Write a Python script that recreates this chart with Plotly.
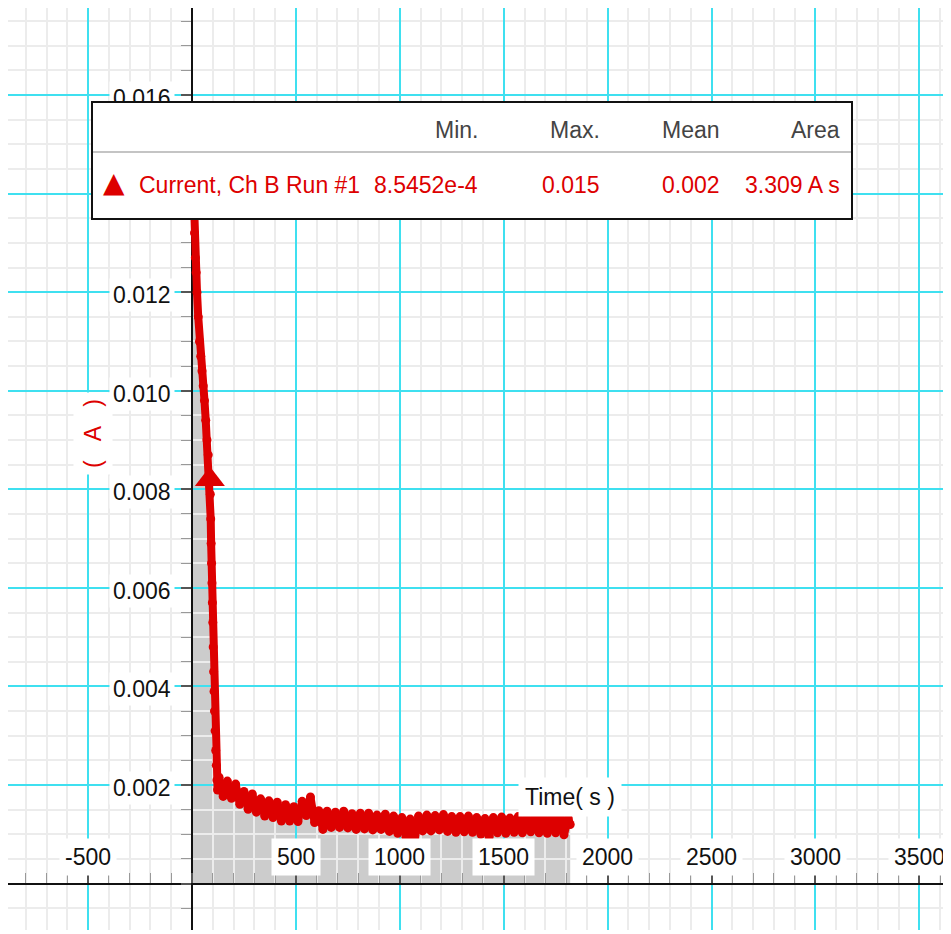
import plotly.graph_objects as go

# ---------------- data ----------------
time_s = [0, 2, 5, 8, 12, 16, 20, 24, 30, 36, 42, 48, 54, 60, 66, 72, 78, 84, 88, 90,
          92, 94, 96, 98, 100, 102, 104, 106, 108, 111, 114, 117, 120, 123,
          130, 150, 170, 190, 210, 230, 250, 270, 290, 310, 330, 350, 370, 390, 410, 430,
          450, 470, 490, 510, 530, 550, 570, 590, 610, 630, 650, 670, 690, 710, 730, 750,
          770, 790, 810, 830, 850, 870, 890, 910, 930, 950, 970, 990, 1010, 1030, 1050,
          1070, 1090, 1110, 1130, 1150, 1170, 1190, 1210, 1230, 1250, 1270, 1290, 1310,
          1330, 1350, 1370, 1390, 1410, 1430, 1450, 1470, 1490, 1510, 1530, 1550, 1570,
          1590, 1610, 1630, 1650, 1670, 1690, 1710, 1730, 1750, 1770, 1790, 1810, 1820]
current_a = [0.0150, 0.0146, 0.0141, 0.0137, 0.0132, 0.0127, 0.0124, 0.0120, 0.0115, 0.0110,
             0.0107, 0.0104, 0.0101, 0.0098, 0.0094, 0.0090, 0.0087, 0.0083, 0.0079, 0.0074,
             0.0069, 0.0065, 0.0061, 0.0057, 0.0053, 0.0048, 0.0043, 0.0039, 0.0035, 0.0031,
             0.0027, 0.0024, 0.0021, 0.0019,
             0.00216, 0.00177, 0.00208, 0.00173, 0.00202, 0.00161, 0.00187, 0.00151, 0.00182, 0.00145,
             0.00172, 0.00137, 0.00168, 0.00134, 0.00165, 0.00127, 0.00160, 0.00127, 0.00156, 0.00126,
             0.00167, 0.00138, 0.00176, 0.00124, 0.00148, 0.00110, 0.00147, 0.00114, 0.00145, 0.00114,
             0.00147, 0.00113, 0.00142, 0.00110, 0.00143, 0.00111, 0.00143, 0.00109, 0.00139, 0.00110,
             0.00141, 0.00106, 0.00137, 0.00102, 0.00134, 0.00094, 0.00131, 0.000855, 0.00137, 0.00107,
             0.00139, 0.00107, 0.00138, 0.00109, 0.00140, 0.00106, 0.00136, 0.00104, 0.00136, 0.00105,
             0.00137, 0.00104, 0.00134, 0.00100, 0.00132, 0.00095, 0.00134, 0.00103, 0.00135, 0.00102,
             0.00133, 0.00104, 0.00136, 0.00103, 0.00134, 0.00105, 0.00136, 0.00103, 0.00134, 0.00102,
             0.00138, 0.00103, 0.00134, 0.00099, 0.00133, 0.00120]

run_marker_t = [86]
run_marker_a = [0.0082]

x_tick_values = [-500, 500, 1000, 1500, 2000, 2500, 3000, 3500]
# 0.014 is hidden behind the statistics box in the original
y_tick_values = [0.002, 0.004, 0.006, 0.008, 0.010, 0.012, 0.016]

series_name = "Current, Ch B Run #1"
stat_headers = ["Min.", "Max.", "Mean", "Area"]
stat_values = ["8.5452e-4", "0.015", "0.002", "3.309 A s"]

x_title = "Time( s )"
y_title = "(\u00a0\u00a0\u00a0A\u00a0\u00a0\u00a0)"

# ---------------- style ----------------
# the page body has an 8 px margin, so the figure starts at screen pixel (8, 8)
OFF = 8
W, H = 940, 922
X_RANGE = [-885.5, 3638]
Y_RANGE = [-0.000941, 0.017766]
FONT = "Liberation Sans, Arial, sans-serif"
FS = 23
RED = "#dd0000"
CYAN = "#3fe0f0"
MINOR = "#ececec"


def px(xs):
    return (xs - OFF) / W


def py(ys):
    return (OFF + H - ys) / H


fig = go.Figure()

# gray area under the curve (below gridlines)
path = "M {},0 ".format(time_s[0]) + " ".join(
    "L {},{}".format(t, a) for t, a in zip(time_s, current_a)) + " L {},0 Z".format(time_s[-1])
fig.add_shape(type="path", path=path, xref="x", yref="y", layer="below",
              fillcolor="#cccccc", line=dict(width=0))

fig.add_trace(go.Scatter(x=time_s, y=current_a, mode="lines+markers",
                         line=dict(color=RED, width=8),
                         marker=dict(size=9, color=RED),
                         hoverinfo="skip"))
fig.add_trace(go.Scatter(x=run_marker_t, y=run_marker_a, mode="markers",
                         marker=dict(symbol="triangle-up", size=26, color=RED),
                         hoverinfo="skip"))

annotations = []
for v in x_tick_values:
    annotations.append(dict(text=str(v), x=v, y=0, xref="x", yref="y",
                            xanchor="center", yanchor="bottom", yshift=8,
                            showarrow=False, bgcolor="white", borderpad=5,
                            font=dict(family=FONT, size=FS, color="#111")))
for v in y_tick_values:
    annotations.append(dict(text="{:.3f}".format(v), x=0, y=v, xref="x", yref="y",
                            xanchor="right", yanchor="middle", xshift=-17, yshift=-3,
                            showarrow=False, bgcolor="white", borderpad=3,
                            font=dict(family=FONT, size=FS, color="#111")))

# axis titles
annotations.append(dict(text=x_title, x=px(570), y=py(797), xref="paper", yref="paper",
                        xanchor="center", yanchor="middle", showarrow=False,
                        bgcolor="white", borderpad=6,
                        font=dict(family=FONT, size=FS, color="#111")))
annotations.append(dict(text=y_title, x=px(93), y=py(434), xref="paper", yref="paper",
                        xanchor="center", yanchor="middle", showarrow=False, textangle=-90,
                        bgcolor="white", borderpad=6,
                        font=dict(family=FONT, size=FS, color=RED)))

# statistics / legend box
annotations.append(dict(text=" ", x=px(91), y=py(101), xref="paper", yref="paper",
                        xanchor="left", yanchor="top", width=758, height=115,
                        showarrow=False, bgcolor="white", bordercolor="#111",
                        borderwidth=2, borderpad=0, font=dict(size=2)))
annotations.append(dict(text=" ", x=px(93), y=py(152), xref="paper", yref="paper",
                        xanchor="left", yanchor="middle", width=758, height=2,
                        showarrow=False, bgcolor="#c4c4c4", borderpad=0, borderwidth=0,
                        font=dict(size=1)))
col_right = [480, 602, 722, 842]
for hdr, val, xr in zip(stat_headers, stat_values, col_right):
    annotations.append(dict(text=hdr, x=px(xr), y=py(130), xref="paper", yref="paper",
                            xanchor="right", yanchor="middle", showarrow=False,
                            font=dict(family=FONT, size=FS, color="#444")))
    annotations.append(dict(text=val, x=px(xr), y=py(185), xref="paper", yref="paper",
                            xanchor="right", yanchor="middle", showarrow=False,
                            font=dict(family=FONT, size=FS, color=RED)))
annotations.append(dict(text=series_name, x=px(137), y=py(185), xref="paper", yref="paper",
                        xanchor="left", yanchor="middle", showarrow=False,
                        font=dict(family=FONT, size=FS, color=RED)))
annotations.append(dict(text="\u25B2", x=px(114), y=py(183), xref="paper", yref="paper",
                        xanchor="center", yanchor="middle", showarrow=False,
                        font=dict(family="DejaVu Sans", size=28, color=RED)))

x_pos = (0 - Y_RANGE[0]) / (Y_RANGE[1] - Y_RANGE[0])
y_pos = (0 - X_RANGE[0]) / (X_RANGE[1] - X_RANGE[0])

fig.update_layout(
    width=W, height=H,
    margin=dict(l=0, r=0, t=0, b=0, pad=0, autoexpand=False),
    paper_bgcolor="white", plot_bgcolor="white",
    showlegend=False,
    annotations=annotations,
    xaxis=dict(range=X_RANGE, domain=[0, 1], anchor="free", position=x_pos,
               showticklabels=False, tick0=0, dtick=500,
               ticks="inside", ticklen=10, tickwidth=2, tickcolor="#555",
               showgrid=True, gridcolor=CYAN, gridwidth=2,
               minor=dict(tick0=0, dtick=100, ticks="inside", ticklen=10, tickwidth=1,
                          tickcolor="#999", showgrid=True, gridcolor=MINOR, gridwidth=2),
               showline=True, linecolor="#111", linewidth=2, zeroline=False,
               layer="below traces", fixedrange=True),
    yaxis=dict(range=Y_RANGE, domain=[0, 1], anchor="free", position=y_pos,
               showticklabels=False, tick0=0, dtick=0.002,
               ticks="outside", ticklen=10, tickwidth=2, tickcolor="#555",
               showgrid=True, gridcolor=CYAN, gridwidth=2,
               minor=dict(tick0=0, dtick=0.0005, ticks="outside", ticklen=10, tickwidth=1,
                          tickcolor="#999", showgrid=True, gridcolor=MINOR, gridwidth=2),
               showline=True, linecolor="#111", linewidth=2, zeroline=False,
               layer="below traces", fixedrange=True),
)

fig.write_html("out.html", config={"displayModeBar": False})
